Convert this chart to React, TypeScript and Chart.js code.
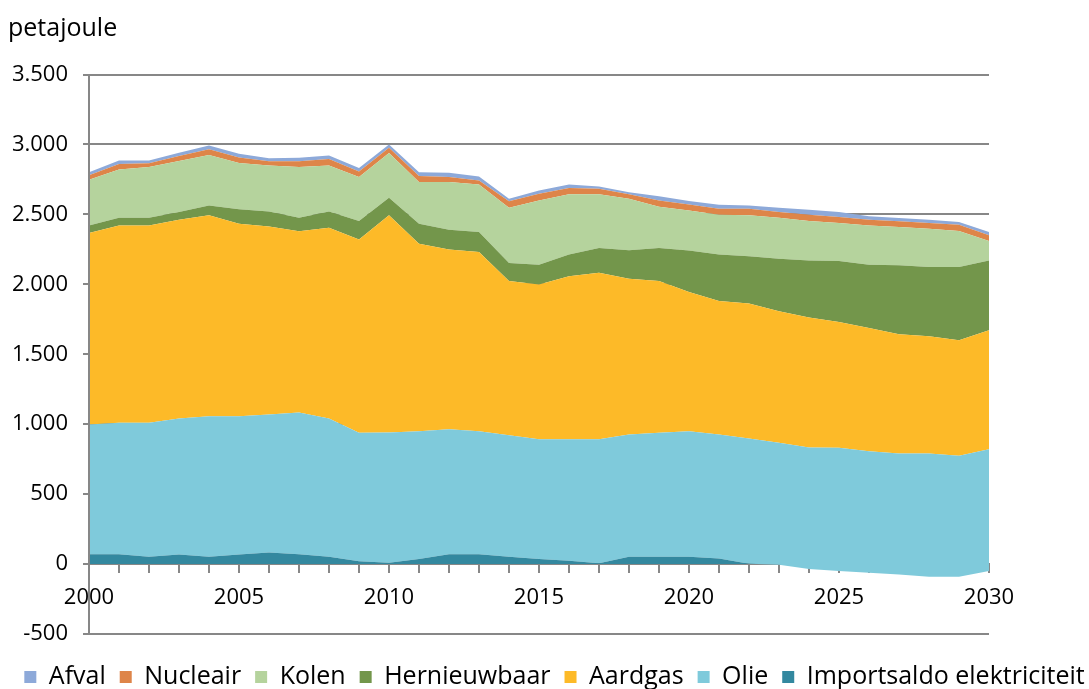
import React, { useEffect, useRef } from 'react';
import { Chart, registerables } from 'chart.js';

Chart.register(...registerables);

const years = ['2000','2001','2002','2003','2004','2005','2006','2007','2008','2009','2010','2011','2012','2013','2014','2015','2016','2017','2018','2019','2020','2021','2022','2023','2024','2025','2026','2027','2028','2029','2030'];

const importsaldo = [71,71,52,69,52,69,83,71,52,21,10,36,71,71,52,36,24,5,52,52,52,40,3,-5,-36,-50,-62,-74,-90,-90,-50];
const olie = [927,939,958,971,1005,988,986,1012,988,917,930,914,893,879,869,857,869,888,874,886,898,886,895,872,869,881,869,864,880,864,871];
const aardgas = [1369,1411,1411,1422,1436,1376,1345,1296,1365,1383,1553,1340,1284,1281,1103,1105,1164,1190,1114,1086,995,955,964,940,929,900,881,853,839,826,850];
const hernieuwbaar = [54,55,55,55,71,103,107,97,116,131,126,143,142,143,128,142,157,177,203,236,297,333,338,376,409,436,452,493,495,524,500];
const kolen = [327,345,362,364,360,331,329,362,329,315,319,298,341,340,396,460,429,383,369,294,285,284,293,293,281,271,281,274,274,257,139];
const nucleair = [32,40,28,36,42,40,30,42,45,40,38,43,36,29,45,48,45,40,31,45,44,42,47,41,46,43,41,40,40,45,40];
const afval = [22,25,20,23,27,26,22,25,26,24,24,28,31,28,19,23,26,17,16,30,24,29,24,31,35,36,24,24,24,19,24];

const seriesNames = ['Importsaldo elektriciteit', 'Olie', 'Aardgas', 'Hernieuwbaar', 'Kolen', 'Nucleair', 'Afval'];
const seriesColors = ['#33889f', '#7fcadb', '#fdba28', '#73964b', '#b5d39d', '#de8549', '#8da9d9'];

const yMin = -500;
const yMax = 3500;
const yStep = 500;
const unitLabel = 'petajoule';

const GRID = '#878787';
const FONT = "'Open Sans', 'Noto Sans', sans-serif";

const CANVAS_W = 1101;
const CANVAS_H = 700;

const fmt = (v: number) => {
  const s = Math.abs(v).toString().replace(/\B(?=(\d{3})+(?!\d))/g, '.');
  return (v < 0 ? '-' : '') + s;
};

const axisLinePlugin = {
  id: 'axisLine',
  afterDatasetsDraw(chart: any) {
    const { ctx, chartArea } = chart;
    ctx.save();
    ctx.strokeStyle = GRID;
    ctx.lineWidth = 2;
    ctx.beginPath();
    ctx.moveTo(chartArea.left, chartArea.top);
    ctx.lineTo(chartArea.left, chartArea.bottom);
    ctx.stroke();
    ctx.restore();
  },
};

export default function App() {
  const ref = useRef<HTMLCanvasElement | null>(null);

  useEffect(() => {
    if (!ref.current) return;
    const values = [importsaldo, olie, aardgas, hernieuwbaar, kolen, nucleair, afval];
    const datasets = values.map((data, i) => ({
      label: seriesNames[i],
      data,
      backgroundColor: seriesColors[i],
      borderColor: 'rgba(0,0,0,0)',
      borderWidth: 0,
      pointRadius: 0,
      pointHoverRadius: 0,
      tension: 0,
      fill: i === 0 ? { target: 'origin', above: seriesColors[0], below: 'rgba(0,0,0,0)' } : '-1',
    }));

    const chart = new Chart(ref.current, {
      type: 'line',
      data: { labels: years, datasets },
      plugins: [axisLinePlugin],
      options: {
        animation: false,
        responsive: false,
        layout: { padding: { left: 8, right: 0, top: 0, bottom: 0.5 } },
        plugins: {
          title: {
            display: true,
            text: unitLabel,
            align: 'start',
            color: '#000',
            font: { family: FONT, size: 25, weight: 'normal', lineHeight: 1.2 },
            padding: { top: 14, bottom: 30.5 },
          },
          legend: {
            position: 'bottom',
            reverse: true,
            title: {
              display: true,
              text: ' ',
              font: { size: 10, lineHeight: 1.2 },
              padding: { top: 0, bottom: 4.5 },
            },
            labels: {
              boxWidth: 12,
              boxHeight: 12,
              padding: 14,
              color: '#000',
              font: { family: FONT, size: 25 },
            },
          },
          tooltip: { enabled: false },
        },
        scales: {
          x: {
            type: 'category',
            position: { y: 0 },
            z: 1,
            offset: false,
            grid: {
              display: true,
              drawOnChartArea: false,
              drawTicks: true,
              tickLength: 8,
              color: GRID,
              lineWidth: 2,
            },
            border: { display: true, color: GRID, width: 2 },
            ticks: {
              autoSkip: false,
              maxRotation: 0,
              padding: 12,
              color: '#000',
              font: { family: FONT, size: 22 },
              callback: (_v: any, i: number) => (Number(years[i]) % 5 === 0 ? years[i] : ''),
            },
          },
          y: {
            stacked: 'single',
            min: yMin,
            max: yMax,
            afterFit: (scale: any) => { scale.width = 81; },
            grid: {
              color: GRID,
              lineWidth: 2,
              drawTicks: true,
              tickLength: 6,
            },
            border: { display: false },
            ticks: {
              stepSize: yStep,
              padding: 15,
              color: '#000',
              font: { family: FONT, size: 22 },
              callback: (v: any) => fmt(Number(v)),
            },
          },
          yRight: {
            position: 'right',
            display: true,
            grid: { display: false, drawTicks: false },
            border: { display: false },
            ticks: { display: false },
            afterFit: (scale: any) => { scale.width = CANVAS_W - 989; },
          },
        },
      } as any,
    });
    return () => chart.destroy();
  }, []);

  return (
    <div style={{ position: 'fixed', left: 0, top: 0, width: CANVAS_W, height: CANVAS_H, background: '#fff' }}>
      <canvas ref={ref} width={CANVAS_W} height={CANVAS_H} />
    </div>
  );
}
